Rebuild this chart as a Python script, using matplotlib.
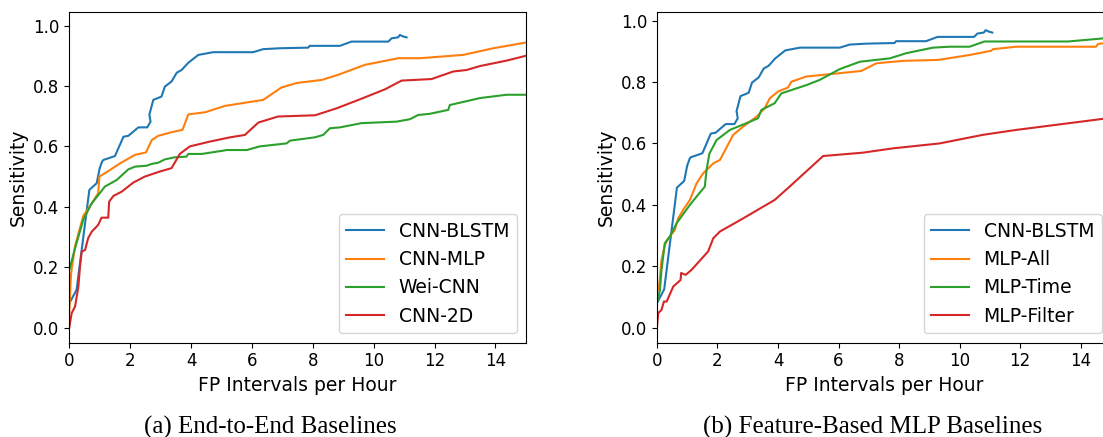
import matplotlib
matplotlib.use("Agg")
import matplotlib.pyplot as plt

# CNN-BLSTM (shared by both panels)
blstm_x = [0, 0.24, 0.66, 0.9, 1.0, 1.08, 1.12, 1.5, 1.78, 1.94, 2.27, 2.56, 2.67, 2.63,
           2.76, 3.03, 3.14, 3.36, 3.53, 3.69, 3.91, 4.24, 4.73, 6.04, 6.37, 6.92, 7.85,
           7.9, 8.89, 9.27, 10.48, 10.59, 10.8, 10.86, 10.97, 11.08]
blstm_y = [0.08, 0.125, 0.456, 0.478, 0.528, 0.55, 0.555, 0.568, 0.632, 0.635, 0.663, 0.663,
           0.682, 0.705, 0.754, 0.765, 0.798, 0.815, 0.844, 0.853, 0.877, 0.903, 0.912, 0.912,
           0.922, 0.925, 0.927, 0.933, 0.933, 0.947, 0.947, 0.958, 0.961, 0.969, 0.964, 0.961]

# (a) end-to-end baselines
cnn_mlp_x = [0, 0.06, 0.19, 0.46, 0.73, 0.95, 0.99, 1.34, 1.67, 2.16, 2.52, 2.71, 2.92, 3.36,
             3.72, 3.91, 4.46, 5.11, 6.37, 6.97, 7.47, 8.29, 8.83, 9.71, 10.81, 11.52, 12.94,
             13.93, 15.0]
cnn_mlp_y = [0.05, 0.18, 0.27, 0.37, 0.41, 0.445, 0.5, 0.522, 0.544, 0.572, 0.58, 0.621, 0.635,
             0.647, 0.655, 0.706, 0.713, 0.734, 0.754, 0.795, 0.81, 0.82, 0.837, 0.87, 0.892,
             0.892, 0.903, 0.925, 0.944]

wei_x = [0, 0.19, 0.46, 0.73, 1.17, 1.56, 1.94, 2.16, 2.54, 2.71, 2.92, 3.14, 3.47, 3.85, 3.91,
         4.35, 5.06, 5.17, 5.83, 6.26, 7.14, 7.25, 8.07, 8.34, 8.56, 8.89, 9.6, 10.75, 11.19,
         11.46, 11.85, 12.45, 12.5, 13.49, 14.36, 15.0]
wei_y = [0.19, 0.263, 0.357, 0.41, 0.467, 0.489, 0.524, 0.533, 0.536, 0.542, 0.546, 0.557,
         0.564, 0.566, 0.575, 0.575, 0.586, 0.588, 0.588, 0.6, 0.61, 0.619, 0.63, 0.638, 0.66,
         0.663, 0.677, 0.682, 0.69, 0.704, 0.708, 0.721, 0.737, 0.76, 0.771, 0.771]

cnn2d_x = [0, 0.08, 0.19, 0.3, 0.35, 0.41, 0.52, 0.62, 0.74, 0.95, 1.06, 1.28, 1.31, 1.45, 1.72,
           2.1, 2.48, 2.98, 3.36, 3.63, 3.96, 4.62, 5.28, 5.77, 6.21, 6.86, 8.07, 8.78, 9.55,
           10.37, 10.92, 11.9, 12.61, 13.05, 13.49, 14.36, 15.0]
cnn2d_y = [0.0, 0.048, 0.07, 0.136, 0.2, 0.252, 0.257, 0.296, 0.318, 0.34, 0.364, 0.364, 0.417,
           0.436, 0.45, 0.48, 0.5, 0.517, 0.528, 0.575, 0.6, 0.616, 0.63, 0.638, 0.679, 0.699,
           0.703, 0.726, 0.756, 0.789, 0.818, 0.823, 0.848, 0.853, 0.866, 0.884, 0.9]

# (b) feature-based MLP baselines
mlp_all_x = [0, 0.08, 0.15, 0.26, 0.37, 0.59, 0.7, 0.87, 1.09, 1.31, 1.53, 1.86, 2.08, 2.52,
             2.85, 3.29, 3.56, 3.73, 4.0, 4.33, 4.44, 4.94, 5.76, 6.75, 7.25, 8.13, 9.29, 10.33,
             11.05, 11.1, 11.87, 14.51, 14.57, 14.73, 15.0]
mlp_all_y = [0.112, 0.144, 0.22, 0.269, 0.29, 0.318, 0.356, 0.384, 0.416, 0.47, 0.503, 0.535,
             0.546, 0.628, 0.655, 0.687, 0.715, 0.747, 0.769, 0.782, 0.801, 0.818, 0.826, 0.836,
             0.861, 0.869, 0.872, 0.888, 0.902, 0.907, 0.915, 0.915, 0.924, 0.926, 0.927]

mlp_time_x = [0, 0.1, 0.15, 0.26, 0.43, 0.65, 0.81, 1.09, 1.31, 1.58, 1.64, 1.73, 1.97, 2.41,
              2.96, 3.34, 3.45, 3.89, 4.11, 4.94, 5.38, 6.04, 6.7, 7.69, 8.24, 9.12, 9.67,
              10.33, 10.82, 13.58, 14.73, 15.0]
mlp_time_y = [0.08, 0.123, 0.188, 0.275, 0.297, 0.34, 0.362, 0.4, 0.427, 0.459, 0.514, 0.566,
              0.611, 0.644, 0.666, 0.682, 0.709, 0.731, 0.763, 0.79, 0.807, 0.842, 0.866, 0.877,
              0.894, 0.912, 0.915, 0.915, 0.932, 0.932, 0.942, 0.944]

mlp_filter_x = [0, 0.04, 0.15, 0.23, 0.32, 0.54, 0.78, 0.8, 0.95, 1.14, 1.69, 1.86, 2.08, 2.85,
                3.89, 4.38, 5.49, 6.81, 7.8, 9.34, 10.77, 11.87, 14.73, 15.0]
mlp_filter_y = [0.0, 0.047, 0.058, 0.085, 0.085, 0.134, 0.155, 0.178, 0.172, 0.188, 0.248,
                0.291, 0.313, 0.356, 0.416, 0.459, 0.559, 0.57, 0.584, 0.6, 0.628, 0.644, 0.68,
                0.683]

captions = ["(a) End-to-End Baselines", "(b) Feature-Based MLP Baselines"]


def draw_panel(ax, series, ylim):
    for x, y, label in series:
        ax.plot(x, y, label=label, lw=1.5)
    ax.set_xlim(0, 15)
    ax.set_ylim(*ylim)
    ax.set_xticks(range(0, 15, 2))
    ax.set_yticks([0.0, 0.2, 0.4, 0.6, 0.8, 1.0])
    ax.tick_params(labelsize=12)
    ax.set_xlabel("FP Intervals per Hour", fontsize=13.5)
    ax.set_ylabel("Sensitivity", fontsize=13.5)
    ax.legend(loc="lower right", fontsize=13.5)


fig = plt.figure(figsize=(11.03, 4.37), dpi=100)
ax1 = fig.add_axes([0.0628, 0.2158, 0.414, 0.7574])
ax2 = fig.add_axes([0.5956, 0.2158, 0.4116, 0.7574])

draw_panel(ax1, [(blstm_x, blstm_y, "CNN-BLSTM"),
                 (cnn_mlp_x, cnn_mlp_y, "CNN-MLP"),
                 (wei_x, wei_y, "Wei-CNN"),
                 (cnn2d_x, cnn2d_y, "CNN-2D")], (-0.05, 1.046))
draw_panel(ax2, [(blstm_x, blstm_y, "CNN-BLSTM"),
                 (mlp_all_x, mlp_all_y, "MLP-All"),
                 (mlp_time_x, mlp_time_y, "MLP-Time"),
                 (mlp_filter_x, mlp_filter_y, "MLP-Filter")], (-0.049, 1.029))

# subfigure captions
fig.text(270 / 1103, 1 - 427 / 437, captions[0], ha="center", va="center",
         family="Liberation Serif", fontsize=18)
fig.text(873 / 1103, 1 - 427 / 437, captions[1], ha="center", va="center",
         family="Liberation Serif", fontsize=18)

fig.savefig("out.png", dpi=100)
